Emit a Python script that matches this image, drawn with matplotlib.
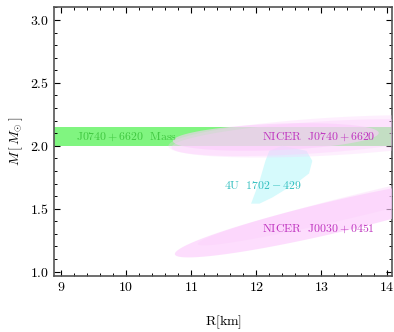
import numpy as np
import matplotlib
matplotlib.use("Agg")
import matplotlib.pyplot as plt
from matplotlib.ticker import MultipleLocator

plt.rcParams['font.family'] = 'serif'
plt.rcParams['font.serif'] = ['cmr10', 'DejaVu Serif']
plt.rcParams['mathtext.fontset'] = 'cm'
plt.rcParams['axes.formatter.use_mathtext'] = True

# ---- data ----
mass_band = (2.0, 2.15)          # J0740+6620 mass measurement
# sheared ellipses: (R_center, R_halfwidth, M_center, slope, M_halfheight, alpha)
j0740_ellipses = [
    (13.2, 2.55, 2.075, 0.030, 0.150, 0.30),
    (12.9, 2.20, 2.065, 0.035, 0.125, 0.35),
    (12.3, 1.58, 2.070, 0.020, 0.105, 0.60),
]
j0030_ellipses = [
    (13.7, 2.60, 1.545, 0.125, 0.090, 0.35),
    (13.2, 2.45, 1.434, 0.120, 0.130, 0.65),
]
u4_R = [12.20, 12.40, 12.77, 12.86, 12.81, 12.66, 12.25, 12.05, 11.92, 12.05, 12.14]
u4_M = [1.96, 2.00, 1.96, 1.88, 1.78, 1.72, 1.59, 1.54, 1.54, 1.72, 1.88]

labels = ["$\\mathrm{J0740}+6620\\ \\ \\mathrm{Mass}$",
          "$\\mathrm{NICER}\\ \\ \\mathrm{J0740}+6620$",
          "$\\mathrm{4U}\\ \\ 1702-429$",
          "$\\mathrm{NICER}\\ \\ \\mathrm{J0030}+0451$"]
label_pos = [(9.23, 2.07), (12.09, 2.07), (11.51, 1.69), (12.09, 1.34)]

fig = plt.figure(figsize=(3.94, 3.32), dpi=100)
ax = fig.add_axes([0.138, 0.168, 0.858, 0.812])
ax.set_xlim(8.9, 14.09)
ax.set_ylim(0.963, 3.106)

ax.axhspan(mass_band[0], mass_band[1], color=(0.50, 0.96, 0.50), lw=0, zorder=1)

ax.fill(u4_R, u4_M, color=(0.84, 0.98, 0.99), lw=0, zorder=2)

t = np.linspace(0, 2 * np.pi, 300)
pink = (0.99, 0.80, 0.99)
for (rc, a, mc, s, h, al) in j0740_ellipses + j0030_ellipses:
    R = rc + a * np.cos(t)
    M = mc + s * a * np.cos(t) + h * np.sin(t)
    ax.fill(R, M, color=pink, alpha=al, lw=0, zorder=3)

colors = [(0.25, 0.78, 0.25), (0.75, 0.20, 0.75), (0.20, 0.75, 0.75), (0.75, 0.20, 0.75)]
for s_, (x, y), c in zip(labels, label_pos, colors):
    ax.text(x, y, s_, color=c, fontsize=8.5, va='center', ha='left', zorder=5)

ax.set_xlabel("$\\mathrm{R[km]}$", fontsize=10, labelpad=14)
ax.set_ylabel("$M\\,[\\,M_{\\odot}\\,]$", fontsize=10, labelpad=4)

ax.xaxis.set_major_locator(MultipleLocator(1))
ax.xaxis.set_minor_locator(MultipleLocator(0.2))
ax.yaxis.set_major_locator(MultipleLocator(0.5))
ax.yaxis.set_minor_locator(MultipleLocator(0.1))
ax.tick_params(which='both', direction='in', top=True, right=True, labelsize=10)
ax.tick_params(which='major', length=4, width=0.8)
ax.tick_params(which='minor', length=2, width=0.7)
for sp in ax.spines.values():
    sp.set_color('#555555')
    sp.set_linewidth(1.2)

fig.savefig("out.png", dpi=100)
